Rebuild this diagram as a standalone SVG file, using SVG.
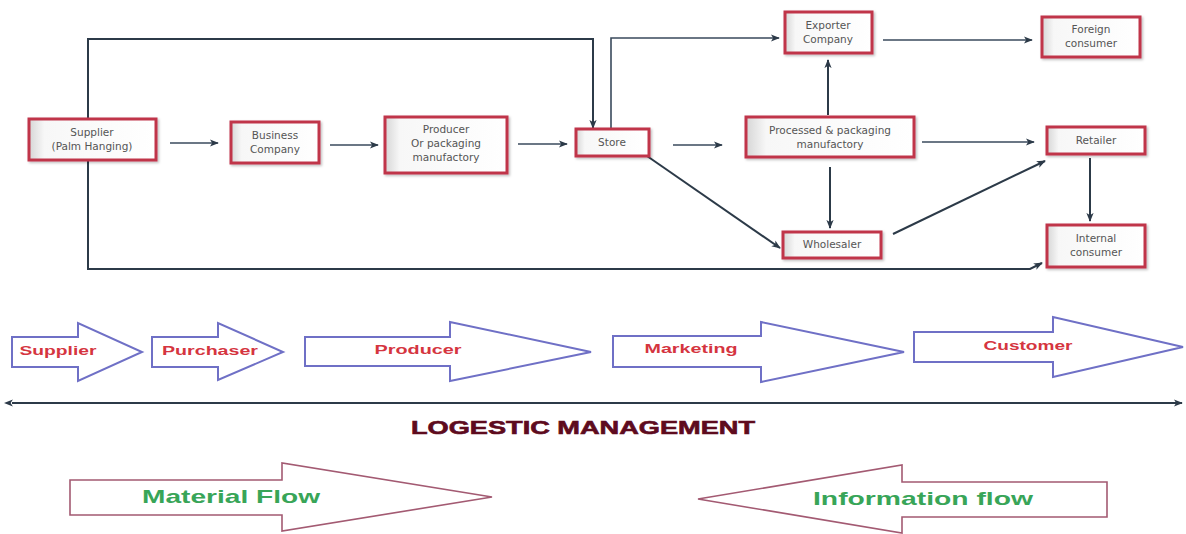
<svg xmlns="http://www.w3.org/2000/svg" width="1186" height="534" viewBox="0 0 1186 534">
<defs>
<linearGradient id="boxfill" x1="0" y1="0" x2="1" y2="0">
<stop offset="0" stop-color="#d6d6d6"/>
<stop offset="0.12" stop-color="#f7f7f7"/>
<stop offset="1" stop-color="#ffffff"/>
</linearGradient>
<marker id="ah" viewBox="0 0 10 10" refX="9" refY="5" markerWidth="9" markerHeight="9" markerUnits="userSpaceOnUse" orient="auto">
<path d="M0,1 L10,5 L0,9 L2.5,5 Z" fill="#2c3a48"/>
</marker>
<marker id="ahs" viewBox="0 0 10 10" refX="1" refY="5" markerWidth="9" markerHeight="9" markerUnits="userSpaceOnUse" orient="auto-start-reverse">
<path d="M0,1 L10,5 L0,9 L2.5,5 Z" fill="#2c3a48"/>
</marker>
<filter id="sh" x="-10%" y="-20%" width="125%" height="150%">
<feDropShadow dx="1.5" dy="1.5" stdDeviation="1.2" flood-color="#000" flood-opacity="0.25"/>
</filter>
</defs>
<style>
.box{fill:url(#boxfill);stroke:#c0354a;stroke-width:3;filter:url(#sh)}
.bt{font-family:"DejaVu Sans",sans-serif;font-size:10.5px;fill:#555;text-anchor:middle;dominant-baseline:middle}
.c{fill:none;stroke:#2c3a48;stroke-width:2;marker-end:url(#ah)}
.ct{fill:none;stroke:#3a4a5c;stroke-width:1.6;marker-end:url(#ah)}
.blk{fill:#fff;stroke:#6f70c6;stroke-width:2;stroke-linejoin:miter}
.blt{font-family:"Liberation Sans",Arial,sans-serif;font-weight:bold;font-size:13px;fill:#d5353f;text-anchor:middle;dominant-baseline:middle}
.flow{fill:#fff;stroke:#a35a72;stroke-width:1.6}
.flt{font-family:"Liberation Sans",Arial,sans-serif;font-weight:bold;font-size:19px;fill:#38a558;text-anchor:middle;dominant-baseline:middle}
</style>

<g id="connectors">
<line class="ct" x1="170" y1="143" x2="218" y2="143"/>
<line class="ct" x1="330" y1="145" x2="378" y2="145"/>
<line class="ct" x1="518" y1="144" x2="567" y2="144"/>
<line class="ct" x1="673" y1="145" x2="722" y2="145"/>
<polyline class="c" points="88,119 88,39 593,39 593,128"/>
<polyline class="c" points="88,160 88,269 1030,269 1042,263"/>
<polyline class="ct" points="611,129 611,38 779,38"/>
<line class="ct" x1="883" y1="40" x2="1032" y2="40"/>
<line class="c" x1="828" y1="115" x2="828" y2="60"/>
<line class="ct" x1="922" y1="142" x2="1034" y2="142"/>
<line class="c" x1="830" y1="167" x2="830" y2="228"/>
<line class="c" x1="647" y1="156" x2="780" y2="248"/>
<line class="c" x1="893" y1="234" x2="1045" y2="161"/>
<line class="c" x1="1090" y1="158" x2="1090" y2="221"/>
</g>

<g id="supplier"><rect class="box" x="29" y="119" width="127" height="41"/><text class="bt" x="92" y="133">Supplier</text><text class="bt" x="92" y="147">(Palm Hanging)</text></g>
<g id="business"><rect class="box" x="231" y="122" width="88" height="41"/><text class="bt" x="275" y="136">Business</text><text class="bt" x="275" y="150">Company</text></g>
<g id="producer"><rect class="box" x="385" y="117" width="122" height="56"/><text class="bt" x="446" y="130">Producer</text><text class="bt" x="446" y="144">Or packaging</text><text class="bt" x="446" y="158">manufactory</text></g>
<g id="store"><rect class="box" x="576" y="129" width="73" height="27"/><text class="bt" x="612" y="143">Store</text></g>
<g id="exporter"><rect class="box" x="785" y="12" width="87" height="41"/><text class="bt" x="828" y="26">Exporter</text><text class="bt" x="828" y="40">Company</text></g>
<g id="foreign"><rect class="box" x="1042" y="17" width="98" height="40"/><text class="bt" x="1091" y="30">Foreign</text><text class="bt" x="1091" y="44">consumer</text></g>
<g id="processed"><rect class="box" x="746" y="117" width="168" height="40"/><text class="bt" x="830" y="131">Processed &amp; packaging</text><text class="bt" x="830" y="145">manufactory</text></g>
<g id="retailer"><rect class="box" x="1047" y="127" width="98" height="27"/><text class="bt" x="1096" y="141">Retailer</text></g>
<g id="wholesaler"><rect class="box" x="783" y="232" width="98" height="26"/><text class="bt" x="832" y="245">Wholesaler</text></g>
<g id="internal"><rect class="box" x="1047" y="225" width="98" height="42"/><text class="bt" x="1096" y="239">Internal</text><text class="bt" x="1096" y="253">consumer</text></g>

<g id="stage-supplier"><polygon class="blk" points="12,337 78,337 78,323 142,352 78,381 78,367 12,367"/><text class="blt" x="58" y="352" textLength="77" lengthAdjust="spacingAndGlyphs">Supplier</text></g>
<g id="stage-purchaser"><polygon class="blk" points="152,337 218,337 218,323 283,352 218,380 218,367 152,367"/><text class="blt" x="210" y="352" textLength="96" lengthAdjust="spacingAndGlyphs">Purchaser</text></g>
<g id="stage-producer"><polygon class="blk" points="305,337 450,337 450,322 591,352 450,381 450,366 305,366"/><text class="blt" x="418" y="351" textLength="87" lengthAdjust="spacingAndGlyphs">Producer</text></g>
<g id="stage-marketing"><polygon class="blk" points="613,336 761,336 761,322 904,352 761,382 761,367 613,367"/><text class="blt" x="691" y="350" textLength="93" lengthAdjust="spacingAndGlyphs">Marketing</text></g>
<g id="stage-customer"><polygon class="blk" points="914,332 1053,332 1053,317 1183,347 1053,377 1053,362 914,362"/><text class="blt" x="1028" y="347" textLength="89" lengthAdjust="spacingAndGlyphs">Customer</text></g>

<g id="logistic">
<line x1="12" y1="403" x2="1182" y2="403" stroke="#2c3a48" stroke-width="2" marker-start="url(#ahs)" marker-end="url(#ah)"/>
<text x="583" y="429" font-family="Liberation Sans, Arial, sans-serif" font-weight="bold" font-size="18" fill="#5e0b1e" text-anchor="middle" dominant-baseline="middle" textLength="344" lengthAdjust="spacingAndGlyphs" stroke="#5e0b1e" stroke-width="0.6">LOGESTIC MANAGEMENT</text>
</g>

<g id="material-flow"><polygon class="flow" points="70,480 282,480 282,463 492,497 282,531 282,515 70,515"/><text class="flt" x="231" y="498" textLength="178" lengthAdjust="spacingAndGlyphs">Material Flow</text></g>
<g id="information-flow"><polygon class="flow" points="698,499 902,465 902,482 1107,482 1107,517 902,517 902,533"/><text class="flt" x="923" y="500" textLength="220" lengthAdjust="spacingAndGlyphs">Information flow</text></g>
</svg>
